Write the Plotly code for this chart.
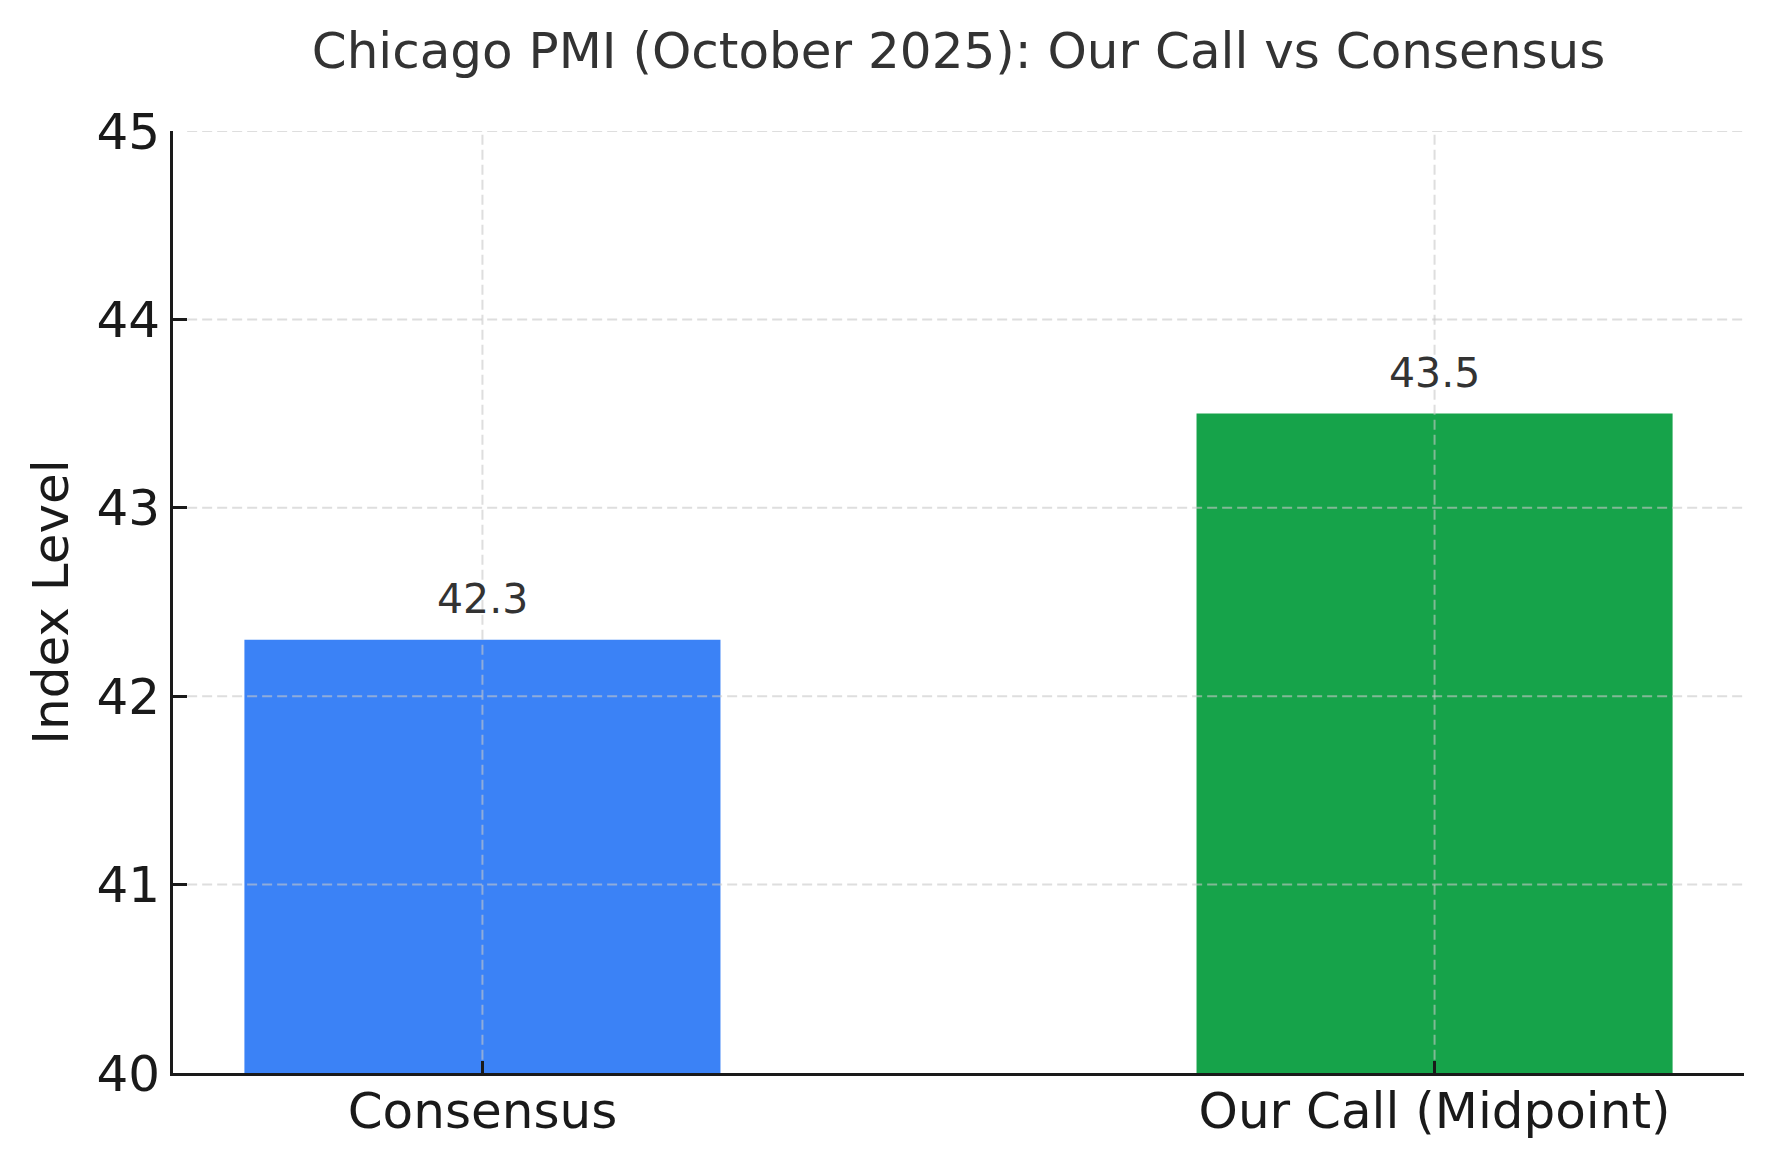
import plotly.graph_objects as go

# chart data
categories = ["Consensus", "Our Call (Midpoint)"]
values = [42.3, 43.5]
bar_colors = ["#3B82F6", "#16A34A"]
y_ticks = [40, 41, 42, 43, 44, 45]

grid_color = "rgba(200,200,200,0.6)"
axis_color = "#1a1a1a"

fig = go.Figure(
    go.Bar(
        x=categories,
        y=values,
        marker_color=bar_colors,
        marker_line_width=0,
        width=0.5,
    )
)

# dashed grid drawn on top of the bars, like the original
# (start just past the inside ticks so the ticks stay dark)
for t in y_ticks[1:]:
    fig.add_shape(type="line", xref="paper", x0=0.009, x1=1, yref="y", y0=t, y1=t,
                  layer="above", line=dict(color=grid_color, width=2, dash="10px,5px"))
for i, _ in enumerate(categories):
    fig.add_shape(type="line", xref="x", x0=i, x1=i, yref="paper", y0=0.014, y1=1,
                  layer="above", line=dict(color=grid_color, width=2, dash="10px,5px"))

# value labels above bars
for c, v in zip(categories, values):
    fig.add_annotation(x=c, y=v, text=f"{v:.1f}", showarrow=False,
                       yanchor="bottom", yshift=15,
                       font=dict(size=41, color="#333333"))

fig.update_layout(
    width=1768,
    height=1167,
    margin=dict(l=173, r=24, t=131, b=94),
    plot_bgcolor="white",
    paper_bgcolor="white",
    font=dict(family="DejaVu Sans", color=axis_color),
    showlegend=False,
    title=dict(
        text="Chicago PMI (October 2025): Our Call vs Consensus",
        font=dict(size=50, color="#333333"),
        x=0.5, xref="paper", xanchor="center",
        y=1 - 50 / 1167, yref="container", yanchor="middle",
    ),
)

fig.update_xaxes(
    type="category",
    range=[-0.325, 1.325],
    showline=True, linecolor=axis_color, linewidth=3,
    ticks="inside", ticklen=12, tickwidth=3, tickcolor=axis_color,
    tickfont=dict(size=50, color=axis_color),
    ticklabelstandoff=-8,
    showgrid=False,
)
fig.update_yaxes(
    range=[40, 45],
    tickvals=y_ticks,
    showline=True, linecolor=axis_color, linewidth=3,
    ticks="inside", ticklen=14, tickwidth=3, tickcolor=axis_color,
    tickfont=dict(size=50, color=axis_color),
    showgrid=False, zeroline=False,
    title=dict(text="Index Level", font=dict(size=50, color=axis_color), standoff=12),
)

fig.write_html("out.html", config={"displayModeBar": False},
               post_script="document.body.style.margin='0';")
